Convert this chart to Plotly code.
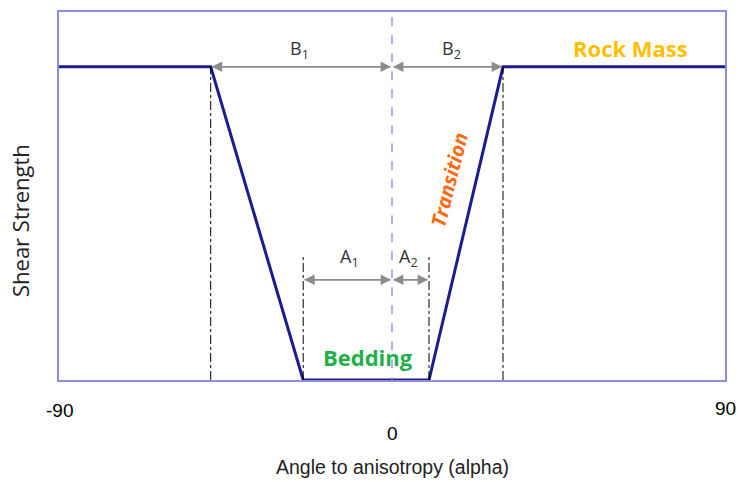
import plotly.graph_objects as go

# strength envelope (angle in degrees, relative shear strength)
angle = [-90, -49, -24, 10, 30, 90]
strength = [1, 1, 0, 0, 1, 1]

# limits of the zones
b1, a1, a2, b2 = -49, -24, 10, 30
rock_level = 1.0
a_level = 0.32
a_top = 0.40

fig = go.Figure()

# dash-dot guides
for xv, y0 in [(b1, rock_level), (a1, a_top), (a2, a_top), (b2, rock_level)]:
    fig.add_shape(type="line", x0=xv, x1=xv, y0=0, y1=y0,
                  line=dict(color="black", width=1, dash="dashdot"))

# dashed centre line
fig.add_shape(type="line", x0=0, x1=0, y0=-0.02, y1=1.175, yref="y",
              line=dict(color="#8c8ce0", width=1.3, dash="dash"))

fig.add_trace(go.Scatter(x=angle, y=strength, mode="lines",
                         line=dict(color="#1c1c8f", width=3),
                         showlegend=False, hoverinfo="skip"))

# double-headed arrows
def arrow(x0, x1, y):
    for xs, xe in [(x0, x1), (x1, x0)]:
        fig.add_annotation(x=xe, y=y, ax=xs, ay=y, xref="x", yref="y",
                           axref="x", ayref="y", text="", showarrow=True,
                           arrowhead=2, arrowsize=1.3, arrowwidth=1.6,
                           arrowcolor="#8c8c8c", standoff=1, startstandoff=0)

arrow(b1, 0, rock_level)
arrow(0, b2, rock_level)
arrow(a1, 0, a_level)
arrow(0, a2, a_level)

lab = dict(family="Open Sans", size=18, color="#333333")
fig.add_annotation(x=-25, y=1.055, text="B<sub>1</sub>", showarrow=False, font=lab)
fig.add_annotation(x=16, y=1.055, text="B<sub>2</sub>", showarrow=False, font=lab)
fig.add_annotation(x=-11.5, y=0.39, text="A<sub>1</sub>", showarrow=False, font=lab)
fig.add_annotation(x=4.5, y=0.39, text="A<sub>2</sub>", showarrow=False, font=lab)

fig.add_annotation(x=-6.5, y=0.075, text="<b>Bedding</b>", showarrow=False,
                   font=dict(family="Open Sans", size=22, color="#22b04b"))
fig.add_annotation(x=64.5, y=1.06, text="<b>Rock Mass</b>", showarrow=False,
                   font=dict(family="Open Sans", size=22, color="#ffc000"))
fig.add_annotation(x=15.5, y=0.64, text="<b><i>Transition</i></b>", showarrow=False,
                   textangle=-76,
                   font=dict(family="Open Sans", size=20, color="#ff6a10"))

# tick labels, below the plot
tick = dict(family="Liberation Sans, Arial", size=19, color="black")
below = dict(y=0, yref="paper", yanchor="middle", xanchor="center", showarrow=False)
fig.add_annotation(x=-90, yshift=-30, text="-90", font=tick, **below)
fig.add_annotation(x=0, yshift=-53, text="0", font=tick, **below)
fig.add_annotation(x=90, yshift=-28, text="90", font=tick, **below)

fig.add_annotation(x=0, yshift=-87, text="Angle to anisotropy (alpha)",
                   font=dict(family="Liberation Sans, Arial", size=19.5, color="#222222"),
                   **below)
fig.add_annotation(x=0, xref="paper", xanchor="center", xshift=-39,
                   y=0.432, yref="paper", yanchor="middle", text="Shear Strength",
                   textangle=-90, showarrow=False,
                   font=dict(family="Open Sans", size=22, color="#222222"))

fig.update_xaxes(range=[-90, 90], showgrid=False, zeroline=False, showticklabels=False,
                 showline=True, linecolor="#8c8ce0", linewidth=1.5, mirror=True)
fig.update_yaxes(range=[0, 1.175], showgrid=False, zeroline=False, showticklabels=False,
                 showline=True, linecolor="#8c8ce0", linewidth=1.5, mirror=True)

fig.update_layout(width=739, height=482, margin=dict(l=59, r=14, t=10, b=102),
                  plot_bgcolor="white", paper_bgcolor="white")

# drop the default page margin so the figure fills the window exactly
fig.write_html("out.html", config={"displayModeBar": False},
               post_script="document.body.style.margin='0';document.body.style.overflow='hidden';")
